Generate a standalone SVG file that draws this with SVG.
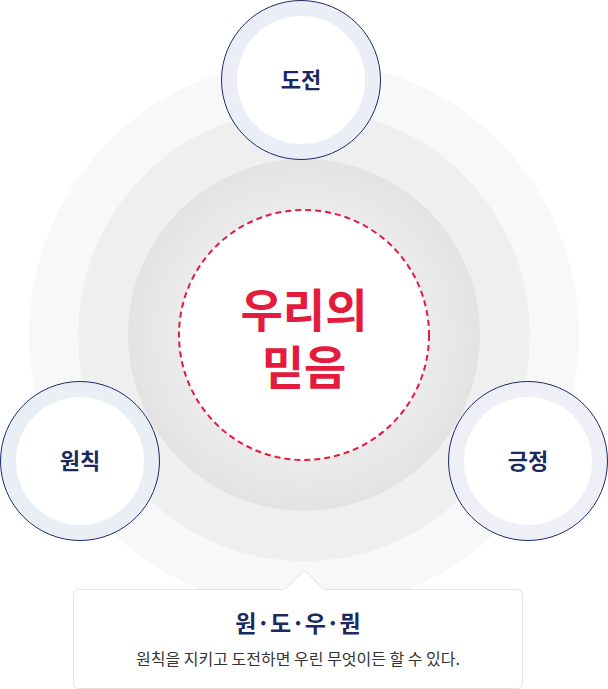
<svg xmlns="http://www.w3.org/2000/svg" width="608" height="689" viewBox="0 0 608 689">
<style>
text{font-family:"Noto Sans CJK KR","Noto Sans",sans-serif;text-anchor:middle}
.lbl{font-size:22px;font-weight:700;fill:#1b2a5e}
.ring{stroke:#1d2b6b;stroke-width:1}
.core{fill:#fff}
.main{font-size:46px;font-weight:700;fill:#e31c3d}
</style>
<defs>
<radialGradient id="ig" cx="0.5" cy="0.5" r="0.5">
<stop offset="0.7" stop-color="#ebebeb"/>
<stop offset="1" stop-color="#e3e3e3"/>
</radialGradient>
</defs>
<rect width="608" height="689" fill="#fff"/>
<g id="background">
<circle cx="304" cy="335" r="275" fill="#f8f8f8"/>
<circle cx="304" cy="335" r="226" fill="#efefef"/>
<circle cx="304" cy="335" r="176" fill="url(#ig)"/>
</g>
<g id="center">
<circle cx="304" cy="335" r="125" fill="#fff" stroke="#e31c3d" stroke-width="2" stroke-dasharray="6 4"/>
<text class="main"><tspan x="304" y="327">우리의</tspan><tspan x="304" y="384">믿음</tspan></text>
</g>
<g id="node-dojeon">
<circle class="ring" cx="301" cy="80" r="79.5" fill="#ebeef7"/>
<circle class="core" cx="301" cy="80" r="64"/>
<text class="lbl" x="301" y="88">도전</text>
</g>
<g id="node-wonchik">
<circle class="ring" cx="80" cy="461" r="79.5" fill="#e9eff4"/>
<circle class="core" cx="80" cy="461" r="64"/>
<text class="lbl" x="80" y="469">원칙</text>
</g>
<g id="node-geungjeong">
<circle class="ring" cx="528" cy="461" r="79.5" fill="#efeff7"/>
<circle class="core" cx="528" cy="461" r="64"/>
<text class="lbl" x="528" y="469">긍정</text>
</g>
<g id="callout">
<path d="M79.5 589.5 H285 L304.5 570 L324 589.5 H516.5 Q522.5 589.5 522.5 595.5 V682.5 Q522.5 688.5 516.5 688.5 H79.5 Q73.5 688.5 73.5 682.5 V595.5 Q73.5 589.5 79.5 589.5 Z" fill="#fff" stroke="#e3e3e3" stroke-width="1"/>
<text x="298" y="632" font-size="23" font-weight="700" fill="#1b2a5e">원·도·우·뭔</text>
<text x="298" y="665" font-size="16" fill="#333">원칙을 지키고 도전하면 우린 무엇이든 할 수 있다.</text>
</g>
<g id="connectors"></g>
</svg>
